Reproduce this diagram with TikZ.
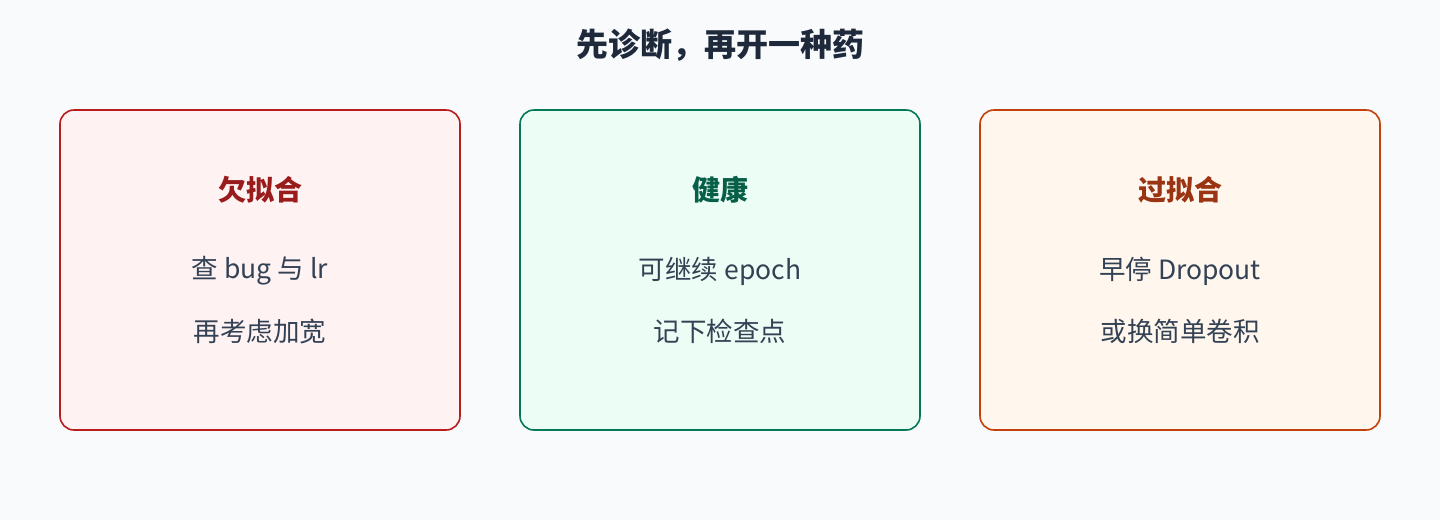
\documentclass[tikz,border=0pt]{standalone}
\usepackage{fontspec}
\setmainfont{Noto Sans CJK SC}
\definecolor{bg}{HTML}{F8FAFC}
\definecolor{titlec}{HTML}{1E293B}
\definecolor{bodyc}{HTML}{334155}
\definecolor{redb}{HTML}{B91C1C}\definecolor{redf}{HTML}{FEF2F2}\definecolor{redt}{HTML}{991B1B}
\definecolor{grnb}{HTML}{047857}\definecolor{grnf}{HTML}{ECFDF5}\definecolor{grnt}{HTML}{065F46}
\definecolor{orgb}{HTML}{C2410C}\definecolor{orgf}{HTML}{FFF7ED}\definecolor{orgt}{HTML}{9A3412}
\tikzset{
  card/.style={draw=#1b, fill=#1f, line width=1.6pt, rounded corners=14pt, minimum width=400pt, minimum height=320pt, inner sep=0pt},
  head/.style={text=#1t, font=\fontsize{28}{32}\selectfont\bfseries, inner sep=0pt},
  body/.style={text=bodyc, font=\fontsize{26.5}{30}\selectfont, inner sep=0pt},
  maintitle/.style={text=titlec, font=\fontsize{32}{36}\selectfont\bfseries, inner sep=0pt}
}
\begin{document}
\begin{tikzpicture}[x=1pt,y=-1pt]
\fill[bg] (0,0) rectangle (1440,520);
\useasboundingbox (0,0) rectangle (1440,520);
\node[maintitle] (title) at (720,45) {先诊断，再开一种药};
\node[card=red] (c1) at (260,270) {};
\node[card=grn] (c2) at (720,270) {};
\node[card=org] (c3) at (1180,270) {};
\node[head=red] (h1) at (260,190) {欠拟合};
\node[body] (a1) at (260,271) {查 bug 与 lr};
\node[body] (b1) at (260,331) {再考虑加宽};
\node[head=grn] (h2) at (720,190) {健康};
\node[body] (a2) at (720,271) {可继续 epoch};
\node[body] (b2) at (720,331) {记下检查点};
\node[head=org] (h3) at (1180,190) {过拟合};
\node[body] (a3) at (1180,271) {早停 Dropout};
\node[body] (b3) at (1180,331) {或换简单卷积};
\end{tikzpicture}
\end{document}
